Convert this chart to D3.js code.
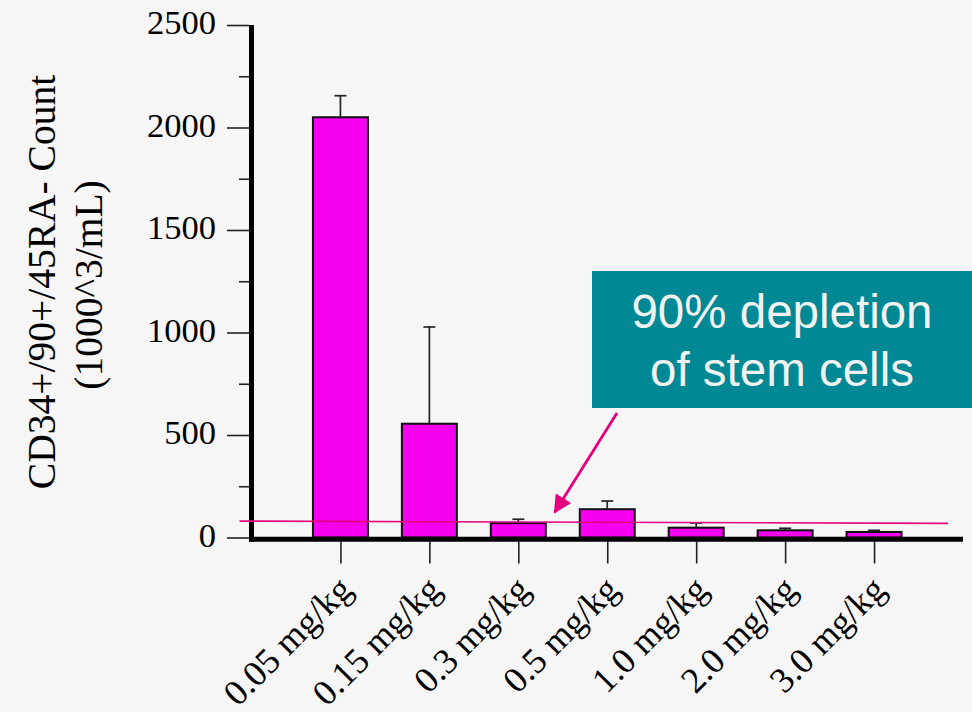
<!DOCTYPE html>
<html>
<head>
<meta charset="utf-8">
<script src="https://cdn.jsdelivr.net/npm/d3@7"></script>
<style>
  html, body { margin: 0; padding: 0; background: #f6f6f6; }
  svg { display: block; }
</style>
</head>
<body>
<svg id="chart" width="972" height="712"></svg>
<script>
// Dose groups and measured CD34+/90+/45RA- counts (mean and upper error)
const doses = ["0.05 mg/kg", "0.15 mg/kg", "0.3 mg/kg", "0.5 mg/kg", "1.0 mg/kg", "2.0 mg/kg", "3.0 mg/kg"];
const counts = [2050, 555, 70, 138, 48, 35, 27];
const errorTops = [2155, 1027, 89, 178, 71, 45, 35];
const yMajorTicks = [0, 500, 1000, 1500, 2000, 2500];
const yMinorTicks = [250, 750, 1250, 1750, 2250];
// 90% depletion reference level (left end, right end)
const thresholdLevels = [80, 69];
const yTitleLines = ["CD34+/90+/45RA-  Count", "(1000^3/mL)"];
const calloutLines = ["90% depletion", "of stem cells"];

const svg = d3.select("#chart");
const serif = "'Liberation Serif', 'Times New Roman', serif";
const sans = "'Liberation Sans', Arial, sans-serif";

const plot = { left: 251.5, right: 963, top: 25, bottom: 537.5 };

const x = d3.scalePoint().domain(doses).range([plot.left, plot.right]).padding(1);
const y = d3.scaleLinear().domain([0, 2500]).range([plot.bottom, plot.top]);

// Bars
const barW = 55;
svg.append("g").selectAll("rect").data(doses).join("rect")
  .attr("x", d => x(d) - barW / 2)
  .attr("y", (d, i) => y(counts[i]))
  .attr("width", barW)
  .attr("height", (d, i) => y(0) - y(counts[i]))
  .attr("fill", "#f500f0")
  .attr("stroke", "#111")
  .attr("stroke-width", 2);

// Upper error bars
const eg = svg.append("g").attr("stroke", "#222").attr("stroke-width", 1.7);
doses.forEach((d, i) => {
  eg.append("line").attr("x1", x(d)).attr("x2", x(d))
    .attr("y1", y(counts[i])).attr("y2", y(errorTops[i]));
  eg.append("line").attr("x1", x(d) - 6).attr("x2", x(d) + 6)
    .attr("y1", y(errorTops[i])).attr("y2", y(errorTops[i]));
});

// Y axis: major ticks with labels, minor ticks without
const yAxis = svg.append("g").attr("transform", `translate(${plot.left - 2.5},0)`)
  .call(d3.axisLeft(y).tickValues(yMajorTicks).tickSize(22).tickSizeOuter(0).tickPadding(11).tickFormat(d3.format("d")));
yAxis.select(".domain").remove();
yAxis.selectAll(".tick line").attr("stroke", "#222").attr("stroke-width", 1.6);
yAxis.selectAll(".tick text")
  .attr("font-family", serif).attr("font-size", 34.5).attr("fill", "#000")
  .attr("dy", "0.26em");

const yMinor = svg.append("g").attr("transform", `translate(${plot.left - 2.5},0)`)
  .call(d3.axisLeft(y).tickValues(yMinorTicks).tickSize(10).tickSizeOuter(0).tickFormat(""));
yMinor.select(".domain").remove();
yMinor.selectAll(".tick line").attr("stroke", "#222").attr("stroke-width", 1.6);

// X axis ticks and rotated labels
const xAxis = svg.append("g").attr("transform", `translate(0,${plot.bottom + 4})`)
  .call(d3.axisBottom(x).tickSize(22).tickSizeOuter(0));
xAxis.select(".domain").remove();
xAxis.selectAll(".tick line").attr("stroke", "#222").attr("stroke-width", 1.6);
xAxis.selectAll(".tick text")
  .attr("font-family", serif).attr("font-size", 36).attr("fill", "#000")
  .attr("text-anchor", "end")
  .attr("dy", null)
  .attr("y", null)
  .attr("transform", "translate(13,50) rotate(-45)");

// Thick axis lines
svg.append("line").attr("x1", plot.left).attr("x2", plot.left).attr("y1", plot.top).attr("y2", plot.bottom + 4)
  .attr("stroke", "#000").attr("stroke-width", 5);
svg.append("line").attr("x1", plot.left - 2.5).attr("x2", plot.right).attr("y1", plot.bottom + 1.7).attr("y2", plot.bottom + 1.7)
  .attr("stroke", "#000").attr("stroke-width", 5);

// Depletion reference line
const pink = "#e6007e";
svg.append("line")
  .attr("x1", plot.left - 12).attr("x2", plot.right - 15)
  .attr("y1", y(thresholdLevels[0])).attr("y2", y(thresholdLevels[1]))
  .attr("stroke", pink).attr("stroke-width", 1.6);

// Callout box
const box = { x0: 592, y0: 271, x1: 972, y1: 408 };
svg.append("rect").attr("x", box.x0).attr("y", box.y0)
  .attr("width", box.x1 - box.x0).attr("height", box.y1 - box.y0)
  .attr("fill", "#008994");
svg.append("g").selectAll("text").data(calloutLines).join("text")
  .attr("x", (box.x0 + box.x1) / 2)
  .attr("y", (d, i) => 328 + i * 58)
  .attr("text-anchor", "middle")
  .attr("font-family", sans).attr("font-size", 47.5)
  .attr("fill", "#f2f2f2")
  .text(d => d);

// Arrow from the callout down to the reference line
svg.append("defs").append("marker")
  .attr("id", "arrowhead").attr("viewBox", "0 0 10 10")
  .attr("refX", 9).attr("refY", 5)
  .attr("markerWidth", 6.5).attr("markerHeight", 6.5)
  .attr("markerUnits", "strokeWidth")
  .attr("orient", "auto")
  .append("path").attr("d", "M0,0 L10,5 L0,10 Z").attr("fill", pink);
const tipX = (x(doses[2]) + x(doses[3])) / 2 - 8;
svg.append("line")
  .attr("x1", box.x0 + 25).attr("y1", box.y1 + 5)
  .attr("x2", tipX).attr("y2", y(thresholdLevels[0]) - 9)
  .attr("stroke", pink).attr("stroke-width", 2.8)
  .attr("marker-end", "url(#arrowhead)");

// Y axis title (two lines, rotated)
const yTitle = svg.append("text")
  .attr("font-family", serif).attr("font-size", 39.5).attr("fill", "#000")
  .attr("text-anchor", "middle")
  .attr("transform", "translate(55,282) rotate(-90)");
yTitle.append("tspan").attr("x", 0).attr("y", 0).text(yTitleLines[0]);
yTitle.append("tspan").attr("x", -3).attr("y", 47).text(yTitleLines[1]);
</script>
</body>
</html>
